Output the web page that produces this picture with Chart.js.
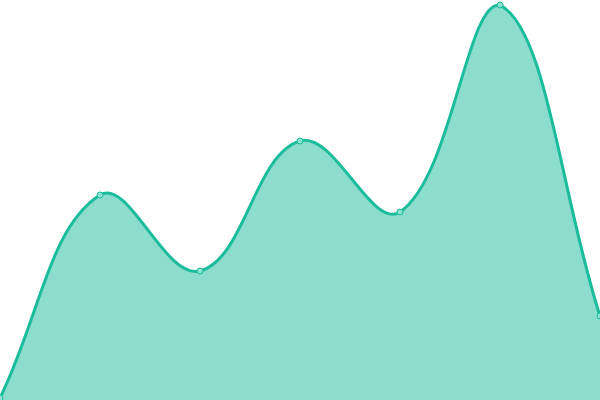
<!DOCTYPE html>
<html>
<head>
<meta charset="utf-8">
<script src="https://cdn.jsdelivr.net/npm/chart.js@4/dist/chart.umd.min.js"></script>
<style>
  html, body { margin: 0; padding: 0; background: #fff; }
  #wrap { width: 600px; height: 400px; }
</style>
</head>
<body>
<div id="wrap"><canvas id="grafico"></canvas></div>
<script>
const categorias = ["1", "2", "3", "4", "5", "6", "7"];
const valores = [2, 205, 129, 259, 188, 395, 84];

const ctx = document.getElementById("grafico").getContext("2d");

new Chart(ctx, {
  type: "line",
  data: {
    labels: categorias,
    datasets: [
      {
        data: valores,
        borderColor: "#1abc9c",
        backgroundColor: "rgba(26, 188, 156, 0.5)",
        borderWidth: 3,
        tension: 0.4,
        fill: "start",
        pointRadius: 3,
        pointBorderWidth: 1,
        pointBackgroundColor: "#8ce0cf",
        pointBorderColor: "#1abc9c",
      },
    ],
  },
  options: {
    responsive: true,
    maintainAspectRatio: false,
    animation: false,
    layout: { padding: 0, autoPadding: false },
    plugins: {
      legend: { display: false },
      tooltip: { enabled: false },
    },
    scales: {
      x: { display: false, offset: false },
      y: { display: false, min: 0, max: 400 },
    },
  },
});
</script>
</body>
</html>
